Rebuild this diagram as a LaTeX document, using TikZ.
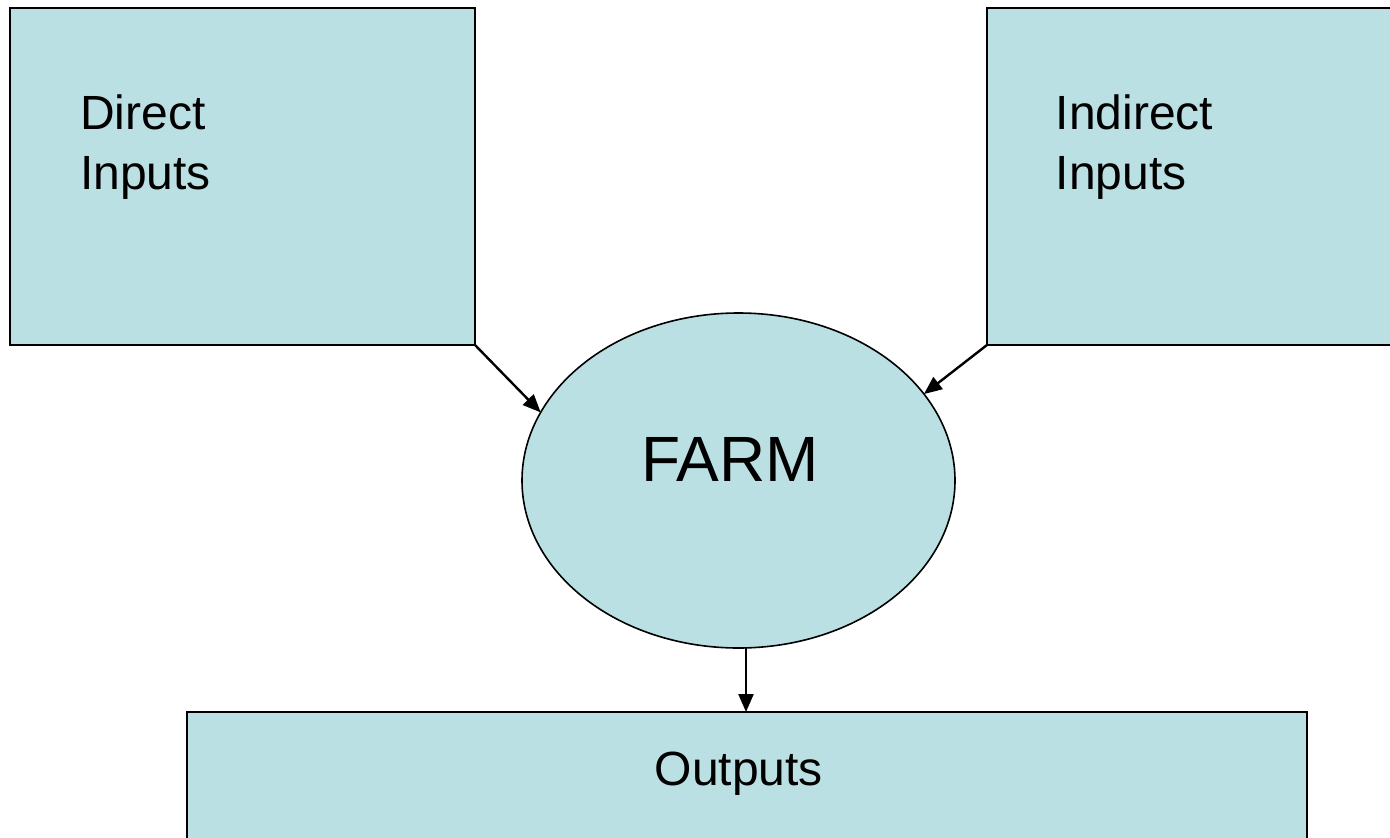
\documentclass[tikz,border=0pt]{standalone}
\usepackage{fontspec}
\setmainfont{Liberation Sans}
\usetikzlibrary{shapes.geometric,arrows.meta}
\definecolor{boxfill}{RGB}{187,224,227}
\tikzset{
  panel/.style={draw=black, fill=boxfill, line width=2pt, rectangle, inner sep=0pt, outer sep=0pt},
  farmshape/.style={draw=black, fill=boxfill, line width=1.6pt, ellipse, inner sep=0pt, outer sep=0pt},
  label48/.style={inner sep=0pt, anchor=base west, font=\fontsize{48}{60}\selectfont},
  flow/.style={line width=2.4pt, -{Triangle[length=18pt,width=15pt]}}
}
\begin{document}
\begin{tikzpicture}[x=1pt,y=-1pt]
\useasboundingbox (0,0) rectangle (1390,838);
\clip (0,0) rectangle (1390,838);
% input and output panels
\node[panel, minimum width=465pt, minimum height=337pt] (din) at (242.5,176.5) {};
\node[panel, minimum width=423pt, minimum height=337pt] (ind) at (1198.5,176.5) {};
\node[panel, minimum width=1120pt, minimum height=150pt] (out) at (747,787) {};
% the farm
\node[farmshape, minimum width=433pt, minimum height=335pt] (farm) at (738.5,480.5) {};
% labels
\node[label48] (dl1) at (80,129) {Direct};
\node[label48] (dl2) at (80,189) {Inputs};
\node[label48] (il1) at (1055.5,129) {Indirect};
\node[label48] (il2) at (1055.5,189) {Inputs};
\node[inner sep=0pt, anchor=base west, font=\fontsize{64}{76}\selectfont] (fl) at (641,481) {FARM};
\node[label48] (ol) at (654.5,785) {Outputs};
% connectors
\draw[flow] (din.south east) -- (farm.161);
\draw[flow] (ind.south west) -- (farm.25.5);
\draw[flow] ([xshift=7.5pt]farm.south) -- ([xshift=7.5pt]farm.south |- out.north);
\end{tikzpicture}
\end{document}
